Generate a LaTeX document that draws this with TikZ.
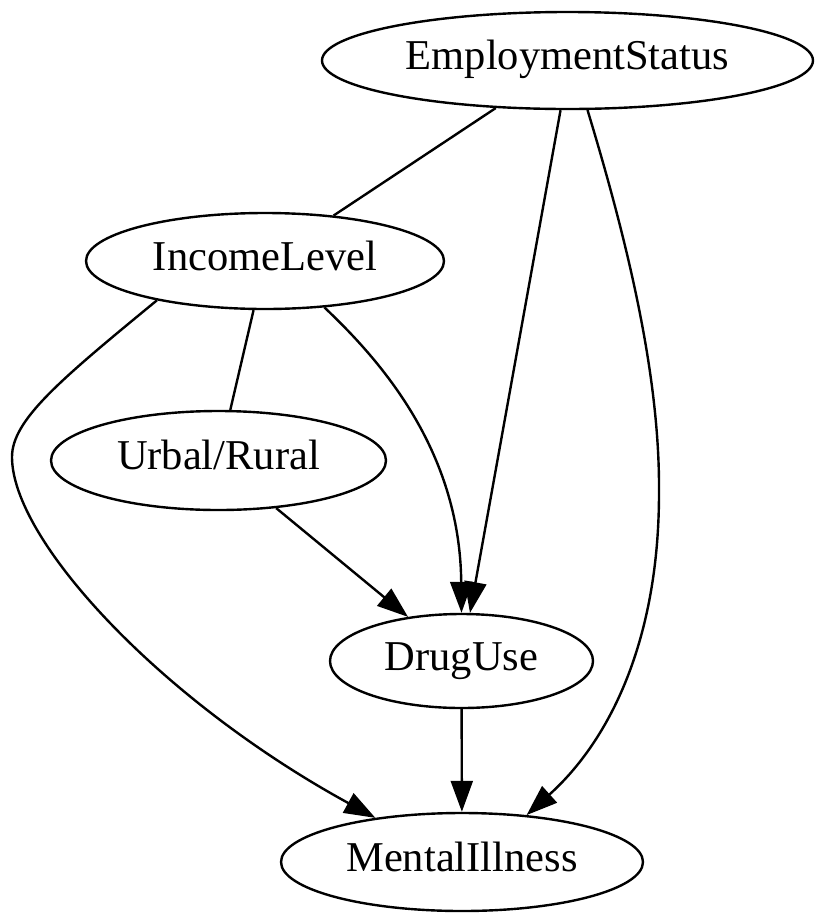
\documentclass[tikz,border=0pt]{standalone}
\usepackage{fontspec}
\setmainfont{Liberation Serif}
\usetikzlibrary{shapes.geometric,arrows.meta}
\begin{document}
\begin{tikzpicture}[x=1pt,y=-1pt, line width=2.4pt,
  var/.style={draw, ellipse, inner sep=0pt, font=\fontsize{42.5}{50}\selectfont, text height=28pt, text depth=10pt},
  arr/.style={-{Triangle[length=31pt,width=22pt]}}]
\useasboundingbox (0,0) rectangle (825,922);
\node[var, minimum width=491pt, minimum height=97pt] (emp) at (567.5,60.5) {EmploymentStatus};
\node[var, minimum width=358pt, minimum height=96pt] (inc) at (265,261) {IncomeLevel};
\node[var, minimum width=335pt, minimum height=99pt] (urb) at (218.5,460.5) {Urbal/Rural};
\node[var, minimum width=263pt, minimum height=94pt] (drug) at (461.5,661) {DrugUse};
\node[var, minimum width=362pt, minimum height=98pt] (ment) at (462,862) {MentalIllness};
\draw (emp) -- (inc);
\draw (inc) -- (urb);
\draw[arr] (urb) -- (drug);
\draw[arr] (drug) -- (ment);
\draw[arr] (emp.-98.6) -- (drug.80);
\draw[arr] (emp.-68.5) .. controls (630,250) and (660,380) .. (659,493) .. controls (659,640) and (610,740) .. (ment.36);
\draw[arr] (inc.-38.6) .. controls (380,360) and (460,450) .. (drug.90);
\draw[arr] (inc.200.3) .. controls (60,380) and (12,420) .. (12,457) .. controls (12,540) and (160,700) .. (ment.153);
\end{tikzpicture}
\end{document}
